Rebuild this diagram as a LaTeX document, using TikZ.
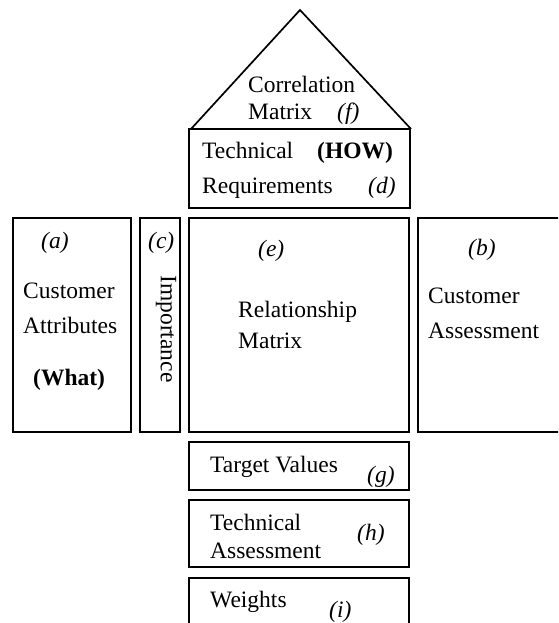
\documentclass[tikz,border=0pt]{standalone}
\usepackage{fontspec}
\setmainfont{Liberation Serif}
\begin{document}
\begin{tikzpicture}[x=1pt,y=-1pt,
  box/.style={draw=black,line width=1.7pt,inner sep=0pt},
  lbl/.style={inner sep=0pt,anchor=base west,font=\fontsize{23.5}{28}\selectfont},
  tag/.style={lbl,font=\fontsize{23.5}{28}\selectfont\itshape}]
\useasboundingbox (0,0) rectangle (558,623);
\clip (0,0) rectangle (558,623);
% roof
\coordinate (apex) at (300,10);
\coordinate (rl) at (191,129);
\coordinate (rr) at (411,129);
\draw[line width=1.7pt,line join=miter] (rl) -- (apex) -- (rr);
% boxes
\node[box,minimum width=221,minimum height=79] (d) at (299.5,168.5) {};
\node[box,minimum width=118,minimum height=214] (a) at (72,325) {};
\node[box,minimum width=40,minimum height=214] (c) at (160,325) {};
\node[box,minimum width=220,minimum height=214] (e) at (299,325) {};
\node[box,minimum width=160,minimum height=214] (b) at (498,325) {};
\node[box,minimum width=220,minimum height=48] (g) at (299,466) {};
\node[box,minimum width=220,minimum height=67] (h) at (299,533.5) {};
\node[box,minimum width=220,minimum height=70] (i) at (299,613) {};
% correlation matrix text
\node[lbl] (f1) at (248,93) {Correlation};
\node[lbl] (f2) at (248,119) {Matrix};
\node[tag] (f3) at (337,119) {(f)};
% technical requirements
\node[lbl] (d1) at (202,158) {Technical};
\node[lbl,font=\fontsize{23.5}{28}\selectfont\bfseries] (d2) at (317,158) {(HOW)};
\node[lbl] (d3) at (202,193) {Requirements};
\node[tag] (d4) at (368,193) {(d)};
% customer attributes
\node[tag] (a1) at (41,248) {(a)};
\node[lbl] (a2) at (23,298) {Customer};
\node[lbl] (a3) at (23,333) {Attributes};
\node[lbl,font=\fontsize{23.5}{28}\selectfont\bfseries] (a4) at (33,385) {(What)};
% importance
\node[tag] (c1) at (148,248) {(c)};
\node[inner sep=0pt,rotate=-90,font=\fontsize{23.5}{28}\selectfont] (c2) at (166,329) {Importance};
% relationship matrix
\node[tag] (e1) at (258,256) {(e)};
\node[lbl] (e2) at (238,317) {Relationship};
\node[lbl] (e3) at (238,348) {Matrix};
% customer assessment
\node[tag] (b1) at (468,255) {(b)};
\node[lbl] (b2) at (428,303) {Customer};
\node[lbl] (b3) at (428,338) {Assessment};
% target values
\node[lbl] (g1) at (210,472) {Target Values};
\node[tag] (g2) at (367,482) {(g)};
% technical assessment
\node[lbl] (h1) at (210,530) {Technical};
\node[lbl] (h2) at (210,558) {Assessment};
\node[tag] (h3) at (357,540) {(h)};
% weights
\node[lbl] (i1) at (210,607) {Weights};
\node[tag] (i2) at (329,617) {(i)};
\end{tikzpicture}
\end{document}
